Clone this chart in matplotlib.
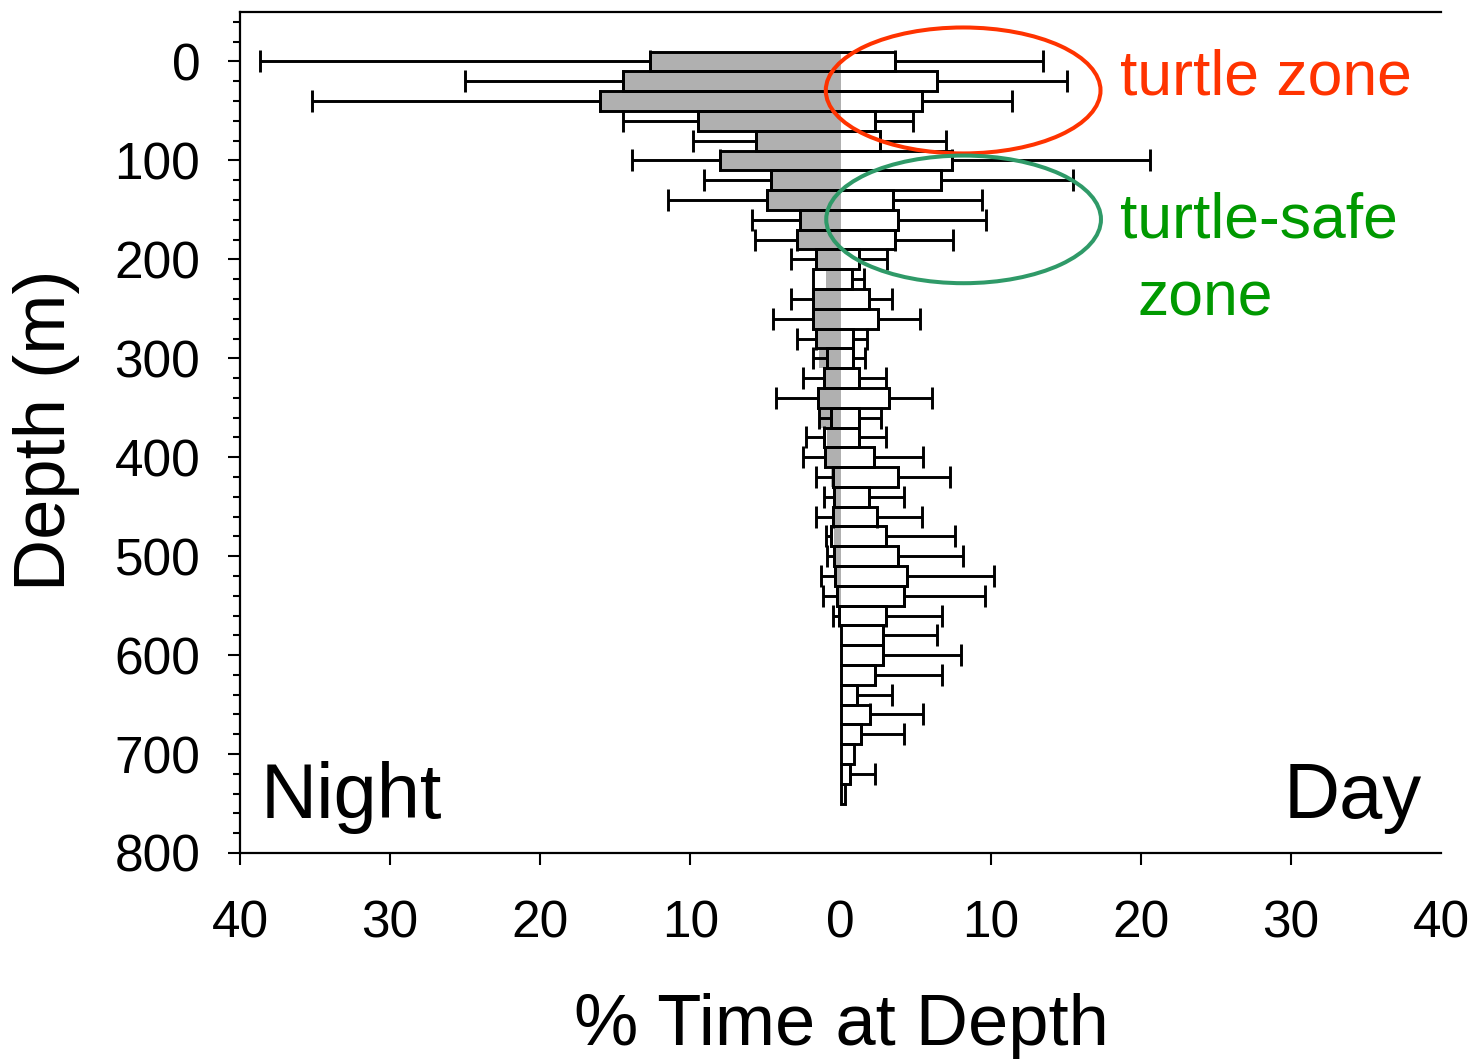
import numpy as np
import matplotlib.pyplot as plt
from matplotlib.patches import Ellipse
from matplotlib.ticker import MultipleLocator

plt.rcParams['font.family'] = ['Liberation Sans', 'DejaVu Sans']

# 20 m depth bins (bin centres, m)
depth = np.array(list(range(0, 760, 20)))

# mean % time at depth and SD, night (left) and day (right)
night_pct = np.array([12.7, 14.5, 16.0, 9.5, 5.6, 8.0, 4.6, 4.9, 2.7, 2.9,
                      1.6, 1.8, 1.8, 1.8, 1.6, 0.9, 1.1, 1.5, 0.65, 1.1,
                      1.0, 0.5, 0.4, 0.5, 0.65, 0.4, 0.37, 0.25, 0.1, 0.0,
                      0.0, 0.0, 0.0, 0.0, 0.0, 0.0, 0.0, 0.0])
night_sd = np.array([26.0, 10.5, 19.2, 5.0, 4.2, 5.9, 4.5, 6.6, 3.2, 2.8,
                     1.7, 0.0, 1.5, 2.7, 1.3, 0.9, 1.4, 2.8, 0.75, 1.2,
                     1.5, 1.1, 0.7, 1.1, 0.3, 0.5, 0.9, 0.9, 0.4, 0.0,
                     0.0, 0.0, 0.0, 0.0, 0.0, 0.0, 0.0, 0.0])
day_pct = np.array([3.6, 6.4, 5.4, 2.3, 2.6, 7.4, 6.7, 3.5, 3.8, 3.6,
                    1.2, 0.75, 1.9, 2.5, 0.85, 0.85, 1.2, 3.2, 1.2, 1.2,
                    2.2, 3.85, 1.9, 2.45, 3.0, 3.85, 4.4, 4.2, 3.0, 2.8,
                    2.8, 2.3, 1.1, 1.95, 1.35, 0.9, 0.65, 0.3])
day_sd = np.array([9.9, 8.7, 6.0, 2.5, 4.4, 13.2, 8.8, 5.9, 5.9, 3.9,
                   1.9, 0.8, 1.5, 2.8, 0.9, 0.8, 1.8, 2.9, 1.5, 1.8,
                   3.3, 3.45, 2.3, 3.0, 4.6, 4.3, 5.8, 5.4, 3.75, 3.6,
                   5.2, 4.45, 2.3, 3.55, 2.9, 0.0, 1.65, 0.0])

# shaded night profile
night_shade = np.array([12.7, 14.5, 16.0, 9.5, 5.6, 7.9, 4.6, 4.9, 2.7, 2.9,
                        1.6, 0.95, 1.7, 1.7, 1.5, 1.4, 1.15, 1.5, 1.4, 0.9,
                        0.9, 0.6, 0.45, 0.45, 0.4, 0.3, 0.3, 0.3, 0.0, 0.0,
                        0.0, 0.0, 0.0, 0.0, 0.0, 0.0, 0.0, 0.0])

xtick_pos = [-40, -30, -20, -10, 0, 10, 20, 30, 40]
xtick_text = ['40', '30', '20', '10', '0', '10', '20', '30', '40']

fig = plt.figure(figsize=(14.78, 10.59), dpi=100)
ax = fig.add_axes([240 / 1478, 1 - 853 / 1059, (1441 - 240) / 1478, (853 - 12) / 1059])

lw = 2.1
ax.barh(depth, -night_shade, height=20, color='#b0b0b0', linewidth=0, zorder=1)
# one outlined box per bin, running from the night value to the day value
ax.barh(depth, night_pct + day_pct, left=-night_pct, height=20, fill=False,
        edgecolor='black', linewidth=lw, zorder=2)

m = night_sd > 0
ax.errorbar(-night_pct[m], depth[m], xerr=[night_sd[m], np.zeros(m.sum())],
            fmt='none', ecolor='black', elinewidth=lw, capsize=8, capthick=lw, zorder=3)
m = day_sd > 0
ax.errorbar(day_pct[m], depth[m], xerr=[np.zeros(m.sum()), day_sd[m]],
            fmt='none', ecolor='black', elinewidth=lw, capsize=8, capthick=lw, zorder=3)

ax.set_xlim(-40, 40)
ax.set_ylim(800, -50)

ax.set_xticks(xtick_pos)
ax.set_xticklabels(xtick_text)
ax.tick_params(axis='x', length=8.6, width=1.5, pad=25, labelsize=37)
for i, t in enumerate(ax.xaxis.get_major_ticks()):
    if xtick_pos[i] in (0, 40):
        t.tick1line.set_visible(False)

ax.set_yticks(range(0, 801, 100))
ax.yaxis.set_minor_locator(MultipleLocator(20))
ax.tick_params(axis='y', which='major', length=8.6, width=1.5, pad=20, labelsize=37)
ax.tick_params(axis='y', which='minor', length=5, width=1.5)

ax.spines['right'].set_visible(False)
for s in ('left', 'top', 'bottom'):
    ax.spines[s].set_linewidth(1.6)

fig.text(841 / 1478, 1 - 1045 / 1059, '% Time at Depth', fontsize=52,
         ha='center', va='baseline')
fig.text(47 / 1478, 1 - 430 / 1059, 'Depth (m)', fontsize=52, rotation=90,
         ha='center', va='center')

ax.text(-38.6, 764.6, 'Night', fontsize=56, ha='left', va='baseline')
ax.text(38.7, 764.6, 'Day', fontsize=56, ha='right', va='baseline')

ax.add_patch(Ellipse((8.17, 29.3), 18.3, 127.3, fill=False, edgecolor='#ff3300',
                     linewidth=2.9, zorder=4, clip_on=False))
ax.add_patch(Ellipse((8.2, 159.6), 18.3, 129, fill=False, edgecolor='#2f9a68',
                     linewidth=2.9, zorder=4, clip_on=False))

ax.text(18.6, 33.3, 'turtle zone', color='#ff3300', fontsize=45, va='baseline')
ax.text(18.6, 178, 'turtle-safe', color='#009900', fontsize=45, va='baseline')
ax.text(19.8, 256.6, 'zone', color='#009900', fontsize=45, va='baseline')

fig.savefig('out.png', dpi=100)
